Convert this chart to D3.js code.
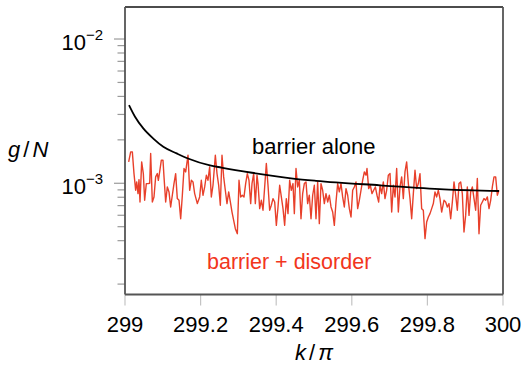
<!DOCTYPE html>
<html>
<head>
<meta charset="utf-8">
<script src="https://cdn.jsdelivr.net/npm/d3@7"></script>
<style>
  body { margin: 0; background: #fff; }
  text { font-family: "Liberation Sans", Arial, sans-serif; }
</style>
</head>
<body>
<svg id="chart" width="524" height="367"></svg>
<script>
// k/pi is stored as offset from 299, g/N in units of 1e-4
const kBase = 299;
const xTicks = [299, 299.2, 299.4, 299.6, 299.8, 300];
const yMajor = [1e-3, 1e-2];
const yMajorLabels = ["−3", "−2"];

const kAlone = [0.0106, 0.0265, 0.0484, 0.0749, 0.1013, 0.1368, 0.1667, 0.2249, 0.2548, 0.3360, 0.4444, 0.5053, 0.6746, 0.8439, 0.9894];
const gAlone = [34.8, 28.9, 24.0, 20.4, 17.9, 16.1, 14.84, 13.3, 12.85, 11.83, 10.78, 10.40, 9.68, 9.08, 8.84];

const kDisorder = [
  0.0097, 0.0150, 0.0194, 0.0238, 0.0282, 0.0309, 0.0344, 0.0370, 0.0397, 0.0441, 0.0485, 0.0520, 0.0564, 0.0608, 0.0653, 0.0679, 0.0723, 0.0767, 0.0811, 0.0855, 0.0882, 0.0917, 0.0961, 0.1005, 0.1032, 0.1076, 0.1120, 0.1164, 0.1208, 0.1252, 0.1296, 0.1340, 0.1384, 0.1429, 0.1473, 0.1517, 0.1561, 0.1605,
  0.1667, 0.1711, 0.1755, 0.1799, 0.1843, 0.1914, 0.1975, 0.2019, 0.2063, 0.2108, 0.2152, 0.2196, 0.2240, 0.2284, 0.2328, 0.2390, 0.2434, 0.2478, 0.2522, 0.2566, 0.2610, 0.2654, 0.2698, 0.2743, 0.2787, 0.2831, 0.2875, 0.2919, 0.2972, 0.3016, 0.3060, 0.3104, 0.3148, 0.3192, 0.3236, 0.3280, 0.3325,
  0.3360, 0.3404, 0.3448, 0.3492, 0.3519, 0.3563, 0.3607, 0.3651, 0.3695, 0.3739, 0.3783, 0.3827, 0.3871, 0.3915, 0.3960, 0.4004, 0.4048, 0.4092, 0.4136, 0.4180, 0.4224, 0.4268, 0.4312, 0.4356, 0.4400, 0.4444, 0.4480, 0.4524, 0.4568, 0.4612, 0.4656, 0.4700, 0.4744, 0.4788, 0.4832, 0.4876, 0.4921, 0.4965, 0.5009,
  0.5053, 0.5097, 0.5141, 0.5185, 0.5229, 0.5273, 0.5317, 0.5362, 0.5406, 0.5450, 0.5494, 0.5538, 0.5582, 0.5626, 0.5670, 0.5714, 0.5758, 0.5802, 0.5847, 0.5891, 0.5935, 0.5979, 0.6023, 0.6067, 0.6111, 0.6155, 0.6199, 0.6243, 0.6287, 0.6332, 0.6376, 0.6402, 0.6446, 0.6490, 0.6534, 0.6578, 0.6623, 0.6667, 0.6711,
  0.6746, 0.6790, 0.6834, 0.6878, 0.6922, 0.6966, 0.7011, 0.7055, 0.7099, 0.7143, 0.7187, 0.7231, 0.7275, 0.7319, 0.7363, 0.7407, 0.7451, 0.7496, 0.7540, 0.7584, 0.7628, 0.7672, 0.7716, 0.7760, 0.7804, 0.7848, 0.7892, 0.7937, 0.7981, 0.8025, 0.8069, 0.8113, 0.8157, 0.8201, 0.8245, 0.8289, 0.8333, 0.8377,
  0.8439, 0.8483, 0.8527, 0.8571, 0.8616, 0.8660, 0.8704, 0.8748, 0.8792, 0.8836, 0.8880, 0.8924, 0.8968, 0.9012, 0.9056, 0.9101, 0.9145, 0.9189, 0.9233, 0.9277, 0.9321, 0.9365, 0.9409, 0.9453, 0.9497, 0.9541, 0.9586, 0.9630, 0.9674, 0.9718, 0.9762, 0.9806, 0.9850, 0.9894
];
const gDisorder = [
  14.07, 16.51, 16.51, 11.67, 8.94, 10.22, 8.48, 10.6, 7.42, 14.07, 11.67, 7.62, 9.95, 9.95, 10.0, 16.07, 7.42, 8.04, 11.07, 11.67, 10.49, 11.99, 14.45, 14.45, 11.07, 7.42, 9.43, 8.71, 6.85, 8.26, 9.95, 11.67, 7.83, 7.62, 5.68, 8.26, 12.65, 11.99,
  15.65, 8.94, 10.49, 10.22, 8.48, 7.23, 8.04, 10.49, 8.26, 9.43, 11.37, 10.49, 12.99, 8.04, 9.69, 15.65, 11.67, 9.69, 7.04, 15.65, 11.07, 8.94, 7.23, 8.71, 7.42, 6.32, 5.53, 4.84, 4.47, 10.49, 8.04, 8.26, 8.04, 9.95, 11.67, 10.49, 7.23,
  9.95, 11.67, 7.23, 11.37, 9.95, 6.67, 7.62, 6.50, 9.43, 13.70, 9.69, 6.50, 7.04, 7.83, 7.42, 5.11, 6.85, 9.69, 8.04, 6.67, 5.11, 7.83, 6.16, 10.49, 8.94, 9.95, 6.16, 12.65, 9.43, 10.49, 5.68, 8.48, 9.95, 10.22, 7.23, 8.26, 5.68, 8.26, 9.69,
  5.68, 10.22, 5.25, 9.95, 8.94, 7.23, 8.48, 7.42, 8.26, 6.85, 6.32, 5.11, 7.42, 9.95, 8.71, 9.95, 8.04, 6.85, 9.18, 8.26, 6.67, 5.84, 8.94, 9.43, 10.22, 6.67, 7.62, 8.94, 10.49, 11.99, 11.37, 12.65, 9.18, 9.69, 8.48, 8.94, 9.43, 8.26, 7.42,
  9.69, 8.48, 10.22, 7.83, 8.94, 11.37, 11.67, 6.32, 9.69, 8.04, 12.65, 6.32, 9.43, 11.07, 7.83, 11.99, 14.07, 9.95, 7.83, 5.68, 8.48, 12.31, 9.18, 9.95, 11.67, 6.67, 6.50, 4.13, 5.39, 5.84, 6.16, 6.67, 7.23, 8.71, 8.04, 8.94, 7.83, 6.32,
  7.62, 7.42, 6.85, 7.23, 5.68, 7.42, 10.22, 8.26, 6.50, 9.95, 10.22, 8.48, 4.59, 5.99, 9.43, 5.99, 8.71, 9.43, 7.83, 6.50, 10.78, 4.47, 7.04, 7.42, 7.83, 7.62, 8.04, 6.67, 7.62, 9.43, 11.07, 11.07, 8.26, 8.94
];

const svg = d3.select("#chart");
const mLeft = 125, mRight = 503, mTop = 7, mBottom = 294.5;

const x = d3.scaleLinear().domain([299, 300]).range([mLeft, mRight]);
const y = d3.scaleLog().domain([1.694e-4, 1.667e-2]).range([mBottom, mTop]);

// minor ticks 2..9 per decade
const yMinor = [];
[1e-4, 1e-3].forEach(dec => { for (let m = 2; m <= 9; m++) { const v = m * dec; if (v >= y.domain()[0] && v <= y.domain()[1]) yMinor.push(v); } });

const tickColor = "#9a9a9a";

// y ticks (outward)
svg.append("g").selectAll("line.minor").data(yMinor).enter().append("line")
  .attr("x1", mLeft - 7.5).attr("x2", mLeft)
  .attr("y1", d => y(d)).attr("y2", d => y(d))
  .attr("stroke", tickColor).attr("stroke-width", 1.2);
svg.append("g").selectAll("line.major").data(yMajor).enter().append("line")
  .attr("x1", mLeft - 11).attr("x2", mLeft)
  .attr("y1", d => y(d)).attr("y2", d => y(d))
  .attr("stroke", tickColor).attr("stroke-width", 1.2);

// y tick labels 10^n
const yl = svg.append("g").selectAll("text").data(yMajor).enter().append("text")
  .attr("x", 103).attr("y", d => y(d) + 11)
  .attr("text-anchor", "end").attr("font-size", 22).attr("fill", "#000");
yl.append("tspan").text("10");
yl.append("tspan").attr("dy", -10).attr("font-size", 15).text((d, i) => yMajorLabels[i]);

// x ticks (outward)
svg.append("g").selectAll("line").data(xTicks).enter().append("line")
  .attr("x1", d => x(d)).attr("x2", d => x(d))
  .attr("y1", mBottom).attr("y2", mBottom + 11)
  .attr("stroke", "#c4c4c4").attr("stroke-width", 1.2);
svg.append("g").selectAll("text").data(xTicks).enter().append("text")
  .attr("x", d => x(d)).attr("y", 331.5)
  .attr("text-anchor", "middle").attr("font-size", 22).attr("fill", "#000")
  .text(d => d3.format("")(d));

// data lines
const disorderPts = kDisorder.map((k, i) => [kBase + k, gDisorder[i] * 1e-4]);
const alonePts = kAlone.map((k, i) => [kBase + k, gAlone[i] * 1e-4]);

svg.append("path").datum(disorderPts)
  .attr("fill", "none").attr("stroke", "#e8402b").attr("stroke-width", 1.4)
  .attr("stroke-linejoin", "round")
  .attr("d", d3.line().x(d => x(d[0])).y(d => y(d[1])));

svg.append("path").datum(alonePts)
  .attr("fill", "none").attr("stroke", "#000").attr("stroke-width", 1.8)
  .attr("d", d3.line().curve(d3.curveMonotoneX).x(d => x(d[0])).y(d => y(d[1])));

// frame
svg.append("line").attr("x1", mLeft).attr("x2", mRight).attr("y1", mTop).attr("y2", mTop)
  .attr("stroke", "#111").attr("stroke-width", 1.3);
svg.append("line").attr("x1", mRight).attr("x2", mRight).attr("y1", mTop).attr("y2", mBottom)
  .attr("stroke", "#555").attr("stroke-width", 1.8);
svg.append("line").attr("x1", mLeft).attr("x2", mLeft).attr("y1", mTop).attr("y2", mBottom)
  .attr("stroke", "#555").attr("stroke-width", 1.8);
svg.append("line").attr("x1", mLeft).attr("x2", mRight).attr("y1", mBottom).attr("y2", mBottom)
  .attr("stroke", "#555").attr("stroke-width", 1.8);

// annotations
svg.append("text").attr("x", 252).attr("y", 153.5).attr("font-size", 22).attr("fill", "#000")
  .text("barrier alone");
svg.append("text").attr("x", 207).attr("y", 269).attr("font-size", 21.5).attr("fill", "#f2361c")
  .text("barrier + disorder");

// axis labels
const ylab = svg.append("text").attr("x", 8).attr("y", 157).attr("font-size", 22).attr("fill", "#000");
ylab.append("tspan").attr("font-style", "italic").text("g");
ylab.append("tspan").attr("dx", 3).text("/");
ylab.append("tspan").attr("dx", 3).attr("font-style", "italic").text("N");

const xlab = svg.append("text").attr("x", 314).attr("y", 360).attr("text-anchor", "middle")
  .attr("font-size", 22).attr("fill", "#000");
xlab.append("tspan").attr("font-style", "italic").text("k");
xlab.append("tspan").attr("dx", 3).text("/");
xlab.append("tspan").attr("dx", 3).attr("font-style", "italic").text("π");
</script>
</body>
</html>
